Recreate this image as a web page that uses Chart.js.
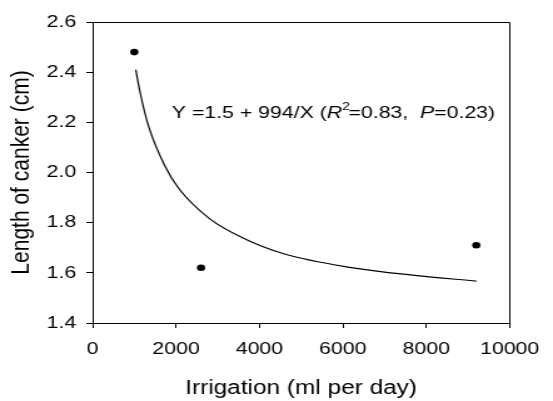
<!DOCTYPE html>
<html>
<head>
<meta charset="utf-8">
<script src="https://cdn.jsdelivr.net/npm/chart.js@4/dist/chart.umd.min.js"></script>
<style>
  html, body { margin: 0; padding: 0; background: #fff; }
</style>
</head>
<body>
<!-- drawn narrow and stretched sideways, like the original figure -->
<canvas id="chart" width="442" height="401" style="width:553px;height:401px"></canvas>
<script>
// measured points
const pointX = [1000, 2600, 9200];
const pointY = [2.48, 1.62, 1.71];

// fitted curve
const curveX = [1035, 1138, 1332, 1722, 2072, 2811, 3591, 4603, 6161, 7717, 9200];
const curveY = [2.41, 2.32, 2.19, 2.03, 1.935, 1.815, 1.74, 1.675, 1.622, 1.59, 1.567];

// axes
const xTicks = [0, 2000, 4000, 6000, 8000, 10000];
const yTicks = [1.4, 1.6, 1.8, 2.0, 2.2, 2.4, 2.6];

// equation label, anchored in data units (left end, baseline)
const eqAnchor = { x: 1900, y: 2.216 };
const eqParts = [
  ['Y =1.5 + 994/X (', 'normal'],
  ['R', 'italic'],
  ['2', 'sup'],
  ['=0.83,  ', 'normal'],
  ['P', 'italic'],
  ['=0.23)', 'normal']
];

const family = '"Liberation Sans", Arial, sans-serif';
Chart.defaults.font.family = family;
Chart.defaults.color = '#000';

const framePlugin = {
  id: 'frame',
  afterDraw(chart) {
    const ctx = chart.ctx;
    const a = chart.chartArea;
    ctx.save();
    ctx.strokeStyle = '#000';
    ctx.lineWidth = 1;
    const top = Math.round(a.top) + 0.5;
    const right = Math.round(a.right) + 0.5;
    ctx.beginPath();
    ctx.moveTo(a.left, top);
    ctx.lineTo(right, top);
    ctx.lineTo(right, a.bottom);
    ctx.stroke();

    // equation text
    let x = chart.scales.x.getPixelForValue(eqAnchor.x);
    const y = chart.scales.y.getPixelForValue(eqAnchor.y);
    ctx.fillStyle = '#000';
    ctx.textBaseline = 'alphabetic';
    eqParts.forEach(([txt, kind]) => {
      let dy = 0;
      if (kind === 'italic') ctx.font = 'italic 17px ' + family;
      else if (kind === 'sup') { ctx.font = '11px ' + family; dy = -8; }
      else ctx.font = '17px ' + family;
      ctx.fillText(txt, x, y + dy);
      x += ctx.measureText(txt).width - (kind === 'sup' ? 1 : 0);
    });
    ctx.restore();
  }
};

const axisGrid = { display: true, drawOnChartArea: false, drawTicks: true, tickLength: 5, color: '#000', lineWidth: 1 };

new Chart(document.getElementById('chart'), {
  type: 'scatter',
  data: {
    datasets: [
      {
        type: 'line',
        data: curveX.map((v, i) => ({ x: v, y: curveY[i] })),
        borderColor: '#000',
        borderWidth: 1.2,
        pointRadius: 0,
        fill: false,
        cubicInterpolationMode: 'monotone'
      },
      {
        data: pointX.map((v, i) => ({ x: v, y: pointY[i] })),
        backgroundColor: '#000',
        borderWidth: 0,
        pointRadius: 3.3
      }
    ]
  },
  options: {
    responsive: false,
    animation: false,
    layout: { padding: { left: 0, top: 22, right: 25, bottom: 0 } },
    plugins: { legend: { display: false }, tooltip: { enabled: false } },
    scales: {
      x: {
        type: 'linear',
        min: xTicks[0],
        max: xTicks[xTicks.length - 1],
        afterBuildTicks: s => { s.ticks = xTicks.map(v => ({ value: v })); },
        afterFit: s => { s.height = 78; },
        ticks: { font: { size: 17 }, color: '#000', padding: 11, maxRotation: 0, callback: v => String(v) },
        grid: axisGrid,
        border: { display: true, color: '#000', width: 1 },
        title: { display: true, text: 'Irrigation (ml per day)', font: { size: 19.5 }, color: '#000', padding: { top: 0, bottom: 1 } }
      },
      y: {
        min: yTicks[0],
        max: yTicks[yTicks.length - 1],
        afterBuildTicks: s => { s.ticks = yTicks.map(v => ({ value: v })); },
        afterFit: s => { s.width = 74; },
        ticks: { font: { size: 17 }, color: '#000', padding: 8, callback: v => v.toFixed(1) },
        grid: axisGrid,
        border: { display: true, color: '#000', width: 1 },
        title: { display: true, text: 'Length of canker (cm)', font: { size: 21 }, color: '#000', padding: { top: 5, bottom: 0 } }
      }
    }
  },
  plugins: [framePlugin]
});
</script>
</body>
</html>
